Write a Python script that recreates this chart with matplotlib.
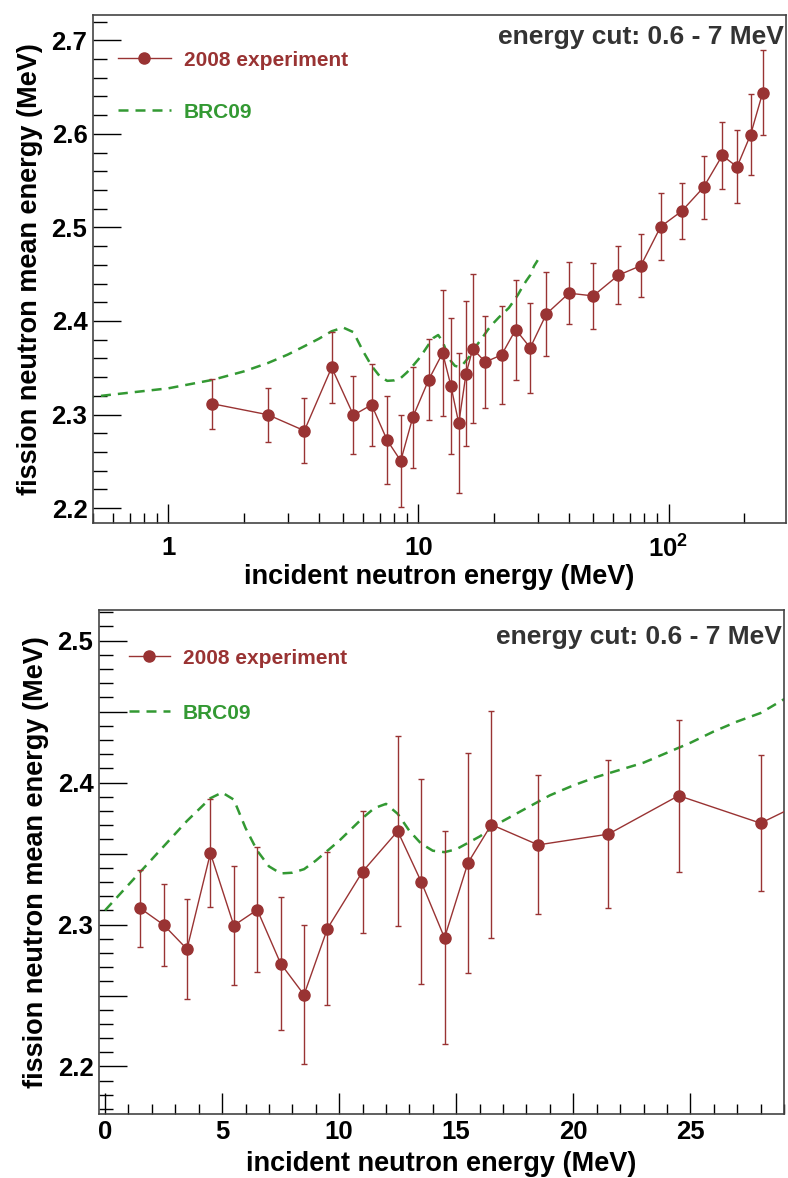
import matplotlib
matplotlib.use("Agg")
import matplotlib.pyplot as plt
from matplotlib.ticker import MultipleLocator, FixedLocator, NullFormatter, FixedFormatter, FuncFormatter
from matplotlib.lines import Line2D
import numpy as np

plt.rcParams['font.family'] = ['Liberation Sans', 'DejaVu Sans']
plt.rcParams['font.weight'] = 'bold'
plt.rcParams['mathtext.fontset'] = 'custom'
plt.rcParams['mathtext.bf'] = 'Liberation Sans:bold'
plt.rcParams['mathtext.rm'] = 'Liberation Sans:bold'

# 2008 experiment: incident energy (MeV), mean energy (MeV), error
exp_energy = [1.5, 2.5, 3.5, 4.5, 5.5, 6.5, 7.5, 8.5, 9.5, 11, 12.5, 13.5, 14.5, 15.5,
              16.5, 18.5, 21.5, 24.5, 28, 32.5, 40, 50, 63, 77.5, 93, 113, 138, 164,
              188, 213, 238]
exp_mean = [2.3115, 2.2998, 2.2827, 2.3503, 2.2993, 2.3104, 2.2725, 2.2505, 2.2972,
            2.3373, 2.3658, 2.3303, 2.2906, 2.3434, 2.3704, 2.3561, 2.3637, 2.3908,
            2.3714, 2.4076, 2.4297, 2.4268, 2.4489, 2.4591, 2.5008, 2.5175, 2.5428,
            2.5769, 2.5648, 2.5993, 2.6442]
exp_err = [0.027, 0.029, 0.035, 0.038, 0.042, 0.044, 0.047, 0.049, 0.054, 0.043,
           0.067, 0.0725, 0.075, 0.0775, 0.080, 0.049, 0.052, 0.0535, 0.048, 0.045,
           0.033, 0.035, 0.031, 0.034, 0.0356, 0.030, 0.034, 0.036, 0.039, 0.043,
           0.045]

# BRC09 calculation
brc_energy = [0, 0.5, 1, 1.5, 2, 2.5, 3, 3.5, 4, 4.5, 5, 5.5, 6, 6.5, 7, 7.5, 8, 8.5,
              9, 9.5, 10, 10.5, 11, 11.5, 12, 12.5, 13, 13.5, 14, 14.5, 15, 16, 17, 18,
              19, 20, 21, 22, 23, 24, 25, 26, 27, 28, 29, 30]
brc_mean = [2.310, 2.319, 2.328, 2.337, 2.346, 2.355, 2.364, 2.373, 2.381, 2.389,
            2.393, 2.388, 2.368, 2.352, 2.341, 2.336, 2.3365, 2.339, 2.345, 2.352,
            2.359, 2.367, 2.375, 2.382, 2.385, 2.378, 2.366, 2.357, 2.352, 2.351,
            2.353, 2.362, 2.373, 2.382, 2.391, 2.398, 2.404, 2.409, 2.414, 2.421,
            2.428, 2.436, 2.443, 2.449, 2.4587, 2.465]

red = '#993333'
green = '#339933'
frame = '#444444'

fig = plt.figure(figsize=(7.88, 11.78), dpi=100)
ax1 = fig.add_axes([0.118, 0.556, 0.8795, 0.4312])
ax2 = fig.add_axes([0.1256, 0.0543, 0.8693, 0.4279])


def draw(ax, leg_xy, leg_space, handle_len, text_y):
    ax.plot(brc_energy, brc_mean, color=green, lw=1.8, dashes=(4, 2.8), zorder=2)
    ax.errorbar(exp_energy, exp_mean, yerr=exp_err, color=red, lw=1, marker='o',
                ms=8, elinewidth=1, capsize=2, capthick=1, zorder=3)
    for s in ax.spines.values():
        s.set_color(frame)
        s.set_linewidth(1.2)
    ax.tick_params(which='both', direction='in', top=False, right=False,
                   labelsize=18.5, colors='black', width=1)
    ax.set_xlabel('incident neutron energy (MeV)', fontsize=19.5, fontweight='bold')
    ax.set_ylabel('fission neutron mean energy (MeV)', fontsize=19.5, fontweight='bold')
    ax.text(0.9966, text_y, 'energy cut: 0.6 - 7 MeV', transform=ax.transAxes,
            ha='right', va='top', fontsize=19, fontweight='bold', color='#333333')
    handles = [Line2D([], [], color=red, lw=1, marker='o', ms=8),
               Line2D([], [], color=green, lw=1.8, dashes=(4, 2.8))]
    leg = ax.legend(handles, ['2008 experiment', 'BRC09'], loc='upper left',
                    bbox_to_anchor=leg_xy, frameon=False, fontsize=15,
                    handlelength=handle_len, labelspacing=leg_space, handletextpad=0.6,
                    borderpad=0, borderaxespad=0)
    for t, c in zip(leg.get_texts(), [red, green]):
        t.set_color(c)
        t.set_fontweight('bold')


# top panel, log scale
draw(ax1, (0.036, 0.930), 1.58, 2.55, 0.980)
ax1.set_xscale('log')
ax1.set_xlim(0.5, 295)
ax1.set_ylim(2.184, 2.727)
ax1.xaxis.set_major_locator(FixedLocator([1, 10, 100]))
ax1.xaxis.set_major_formatter(FixedFormatter(['1', '10', r'$\mathbf{10^{2}}$']))
minors = [m * d for d in [0.1, 1, 10, 100] for m in range(2, 10)]
ax1.xaxis.set_minor_locator(FixedLocator(minors))
ax1.xaxis.set_minor_formatter(NullFormatter())
ax1.yaxis.set_major_locator(MultipleLocator(0.1))
ax1.yaxis.set_minor_locator(MultipleLocator(0.02))
ax1.tick_params(axis='x', which='major', length=14, pad=9)
ax1.tick_params(axis='x', which='minor', length=7)
ax1.tick_params(axis='y', which='major', length=20, pad=4)
ax1.tick_params(axis='y', which='minor', length=10)
ax1.xaxis.labelpad = 1
ax1.yaxis.labelpad = 6

# bottom panel, linear scale
draw(ax2, (0.0438, 0.9235), 1.73, 1.97, 0.970)
ax2.set_xlim(-0.26, 29)
ax2.set_ylim(2.1665, 2.5216)
ax2.xaxis.set_major_locator(MultipleLocator(5))
ax2.xaxis.set_minor_locator(MultipleLocator(1))
ax2.yaxis.set_major_locator(MultipleLocator(0.05))
ax2.yaxis.set_major_formatter(FuncFormatter(
    lambda v, p: '%.1f' % v if abs(v * 10 - round(v * 10)) < 1e-6 else ''))
ax2.yaxis.set_minor_locator(MultipleLocator(0.01))
ax2.tick_params(axis='x', which='major', length=15, pad=4)
ax2.tick_params(axis='x', which='minor', length=7)
ax2.tick_params(axis='y', which='major', length=20, pad=4)
ax2.tick_params(axis='y', which='minor', length=10)
ax2.xaxis.labelpad = 5
ax2.yaxis.labelpad = 6

fig.savefig('out.png', dpi=100)
